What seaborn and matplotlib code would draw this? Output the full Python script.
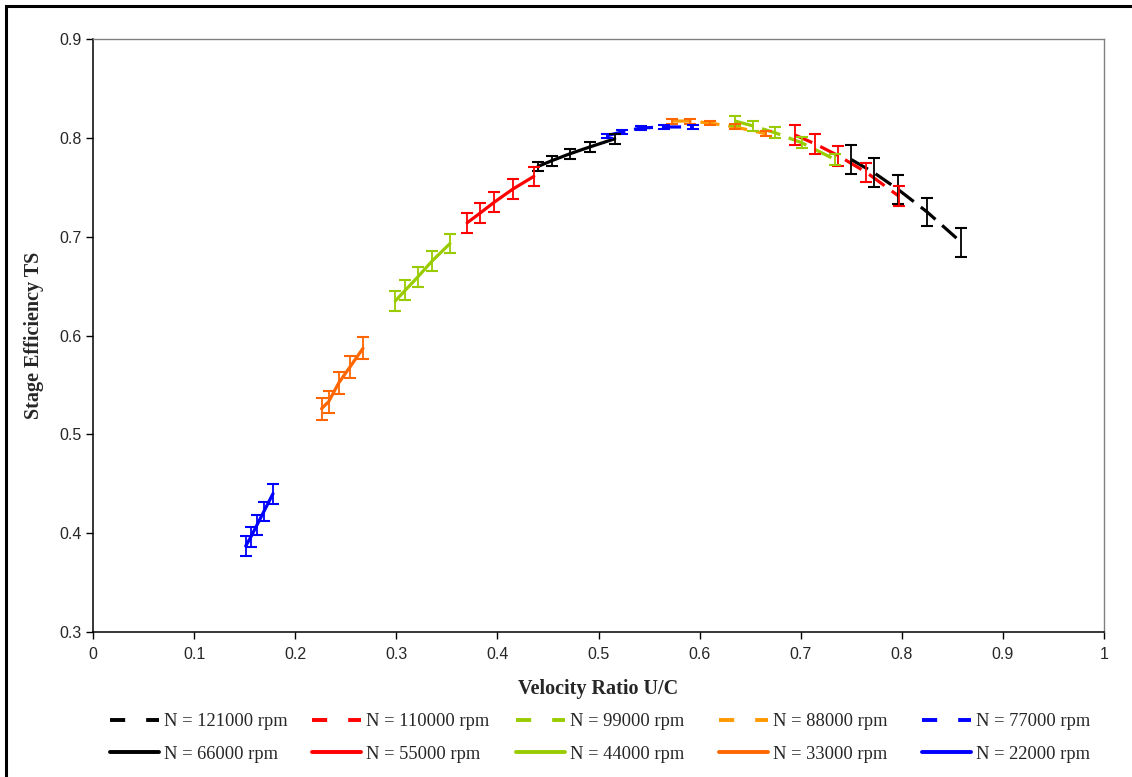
import numpy as np
import pandas as pd
import matplotlib
matplotlib.use('Agg')
import matplotlib.pyplot as plt
import seaborn as sns
from matplotlib.lines import Line2D
from matplotlib.patches import Rectangle

# 各转速下的速比 U/C 与级效率
speeds = [121000, 110000, 99000, 88000, 77000, 66000, 55000, 44000, 33000, 22000]
uc = {
    121000: [0.750, 0.772, 0.796, 0.825, 0.859],
    110000: [0.694, 0.714, 0.737, 0.765, 0.797],
    99000: [0.635, 0.653, 0.675, 0.701, 0.734],
    88000: [0.573, 0.590, 0.610, 0.635, 0.666],
    77000: [0.508, 0.523, 0.542, 0.565, 0.593],
    66000: [0.440, 0.454, 0.472, 0.492, 0.516],
    55000: [0.370, 0.383, 0.397, 0.415, 0.436],
    44000: [0.299, 0.309, 0.321, 0.335, 0.353],
    33000: [0.226, 0.233, 0.243, 0.254, 0.267],
    22000: [0.151, 0.156, 0.162, 0.169, 0.178],
}
eff = {
    121000: [0.778, 0.765, 0.748, 0.725, 0.694],
    110000: [0.803, 0.794, 0.782, 0.765, 0.741],
    99000: [0.817, 0.812, 0.805, 0.795, 0.778],
    88000: [0.817, 0.817, 0.815, 0.811, 0.804],
    77000: [0.802, 0.806, 0.810, 0.811, 0.811],
    66000: [0.771, 0.777, 0.784, 0.791, 0.799],
    55000: [0.714, 0.724, 0.735, 0.748, 0.761],
    44000: [0.635, 0.646, 0.659, 0.675, 0.693],
    33000: [0.526, 0.533, 0.552, 0.568, 0.587],
    22000: [0.387, 0.396, 0.408, 0.422, 0.440],
}
# 误差棒半宽
err = {121000: 0.0145, 110000: 0.010, 99000: 0.0055, 88000: 0.0025, 77000: 0.002,
       66000: 0.005, 55000: 0.010, 44000: 0.010, 33000: 0.011, 22000: 0.010}

colors = {121000: 'black', 110000: '#FF0000', 99000: '#99CC00', 88000: '#FF9900',
          77000: '#0000FF', 66000: 'black', 55000: '#FF0000', 44000: '#99CC00',
          33000: '#FF6600', 22000: '#0000FF'}
err_colors = dict(colors)
err_colors[88000] = '#FF6600'
dashed = {121000, 110000, 99000, 88000, 77000}

sns.set_style('white')
plt.rcParams['font.family'] = ['Liberation Sans', 'DejaVu Sans']

fig = plt.figure(figsize=(11.32, 7.77), dpi=100)
ax = fig.add_axes([0.0822, 0.1866, 0.8931, 0.7632])

handles = {}
for n in speeds:
    df = pd.DataFrame({'uc': uc[n], 'eff': eff[n]})
    sns.lineplot(data=df, x='uc', y='eff', color=colors[n], linewidth=2.3,
                 ax=ax, legend=False, zorder=3)
    line = ax.lines[-1]
    if n in dashed:
        line.set_dashes((6, 2.8))
    ax.errorbar(df['uc'], df['eff'], yerr=err[n], fmt='none', ecolor=err_colors[n],
                elinewidth=1.3, capsize=4.5, capthick=1.5, zorder=4)
    if n in dashed:
        handles[n] = Line2D([], [], color=colors[n], linewidth=2.8, linestyle='--',
                            dashes=(3.9, 5.4))
    else:
        handles[n] = Line2D([], [], color=colors[n], linewidth=2.8, linestyle='-')

ax.set_xlim(0, 1)
ax.set_ylim(0.3, 0.9)
ax.set_xticks(np.arange(0, 1.01, 0.1))
ax.set_xticklabels(['0', '0.1', '0.2', '0.3', '0.4', '0.5', '0.6', '0.7', '0.8', '0.9', '1'])
ax.set_yticks(np.arange(0.3, 0.91, 0.1))
ax.set_yticklabels(['0.3', '0.4', '0.5', '0.6', '0.7', '0.8', '0.9'])
ax.tick_params(axis='both', direction='out', length=5, width=1, color='black',
               labelsize=11.5, left=True, bottom=True)
ax.tick_params(axis='x', pad=6)
ax.tick_params(axis='y', pad=3)
for side in ['left', 'bottom']:
    ax.spines[side].set_color('black')
    ax.spines[side].set_linewidth(1.1)
for side in ['top', 'right']:
    ax.spines[side].set_color('#808080')
    ax.spines[side].set_linewidth(1.0)

ax.set_xlabel('Velocity Ratio U/C', fontfamily='Liberation Serif', fontweight='bold',
              fontsize=14.5, labelpad=12)
ax.set_ylabel('Stage Efficiency TS', fontfamily='Liberation Serif', fontweight='bold',
              fontsize=14.5, labelpad=11)

# 图例：五列，每列上为虚线(高转速)，下为实线(低转速)
columns = [(121000, 66000), (110000, 55000), (99000, 44000), (88000, 33000), (77000, 22000)]
col_x = [110, 312, 516, 719, 922]
for (hi, lo), x0 in zip(columns, col_x):
    leg = fig.legend([handles[hi], handles[lo]], ['N = %d rpm' % hi, 'N = %d rpm' % lo],
                     loc='center left', bbox_to_anchor=(x0 / 1132, 1 - 738 / 777),
                     frameon=False, prop={'family': 'Liberation Serif', 'size': 13.3},
                     handlelength=2.65, handletextpad=0.25, labelspacing=0.85,
                     borderpad=0, borderaxespad=0)

fig.patches.append(Rectangle((6 / 1132, -0.05), 1.2, 0.9923 + 0.05, transform=fig.transFigure,
                             fill=False, edgecolor='black', linewidth=2.2))

fig.savefig('out.png', dpi=100, facecolor='white')
